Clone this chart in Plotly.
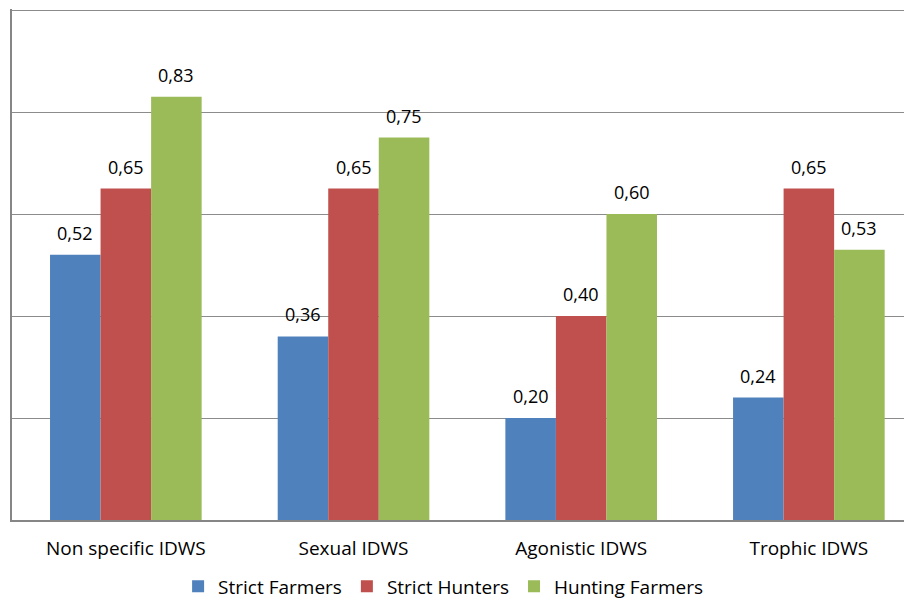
import plotly.graph_objects as go

categories = ["Non specific IDWS", "Sexual IDWS", "Agonistic IDWS", "Trophic IDWS"]
series_names = ["Strict Farmers", "Strict Hunters", "Hunting Farmers"]
strict_farmers = [0.52, 0.36, 0.20, 0.24]
strict_hunters = [0.65, 0.65, 0.40, 0.65]
hunting_farmers = [0.83, 0.75, 0.60, 0.53]
colors = ["#4F81BD", "#C0504D", "#9BBB59"]

all_series = [strict_farmers, strict_hunters, hunting_farmers]
xpos = list(range(len(categories)))
bar_w = 0.222
FONT = "Open Sans, Lato, sans-serif"

fig = go.Figure()
annotations = []
for k, (name, vals, col) in enumerate(zip(series_names, all_series, colors)):
    fig.add_trace(go.Bar(
        x=xpos, y=vals, name=name, marker=dict(color=col, line=dict(width=0)),
        hoverinfo="skip",
    ))
    off = (k - 1) * bar_w
    for i, v in enumerate(vals):
        annotations.append(dict(
            x=i + off, y=v, xref="x", yref="y", text=f"{v:.2f}".replace(".", ","),
            showarrow=False, yshift=22, font=dict(family=FONT, size=18, color="#000000"),
        ))

fig.update_layout(
    width=912, height=600,
    margin=dict(l=4, r=8, t=1, b=88),
    paper_bgcolor="white", plot_bgcolor="white",
    barmode="group", bargap=0.334, bargroupgap=0,
    font=dict(family=FONT, size=18, color="#000000"),
    annotations=annotations,
    showlegend=True,
    legend=dict(orientation="h", x=0.479, xanchor="center", y=-0.130, yanchor="middle",
                font=dict(family=FONT, size=19), itemwidth=30, traceorder="normal"),
)
fig.update_xaxes(
    range=[-0.5, 3.453], tickvals=xpos, ticktext=categories, showgrid=False,
    showline=True, linecolor="#868686", linewidth=2, ticks="", ticklabelstandoff=10,
    tickfont=dict(family=FONT, size=19, color="#000000"), zeroline=False,
)
fig.update_yaxes(
    range=[0, 1.002], dtick=0.2, showticklabels=False, showgrid=True,
    gridcolor="#8c8c8c", gridwidth=1, showline=True, linecolor="#868686", linewidth=2,
    zeroline=False, ticks="",
)
fig.write_html("out.html")
